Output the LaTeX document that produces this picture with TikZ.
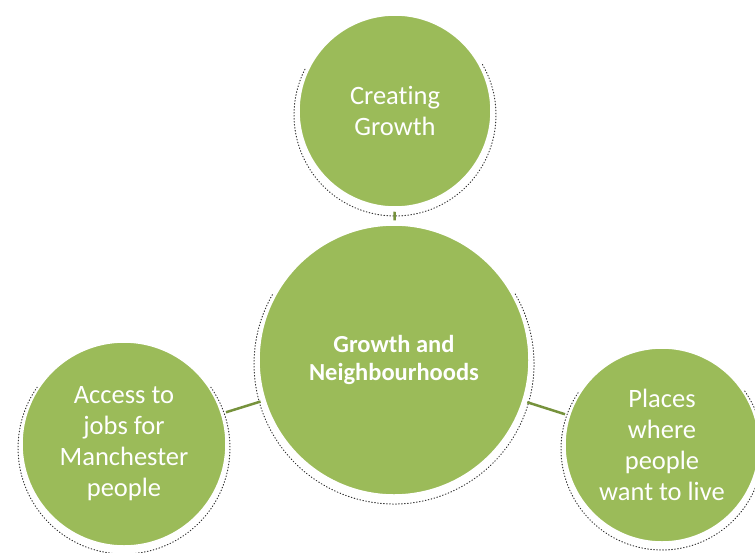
\documentclass[tikz,border=0pt]{standalone}
\usepackage{fontspec}
\setmainfont[Ligatures=NoCommon]{Carlito}
\definecolor{leaf}{HTML}{9BBB59}
\definecolor{darkleaf}{HTML}{76923C}
\begin{document}
\begin{tikzpicture}[x=1pt,y=-1pt,
  bubble/.style={circle, fill=leaf, draw=white, line width=1.5pt, text=white, align=center, inner sep=0pt},
  outertext/.style={font=\fontsize{26.5}{31}\selectfont},
  centertext/.style={font=\fontsize{24.5}{28}\selectfont\bfseries},
  link/.style={draw=darkleaf, line width=2.5pt, shorten <=4pt, shorten >=4pt},
  shadowdots/.style={draw=black!80, line width=1pt, dash pattern=on 0.7pt off 2.3pt, line cap=round}]
\useasboundingbox (0,0) rectangle (755,552);
\clip (0,0) rectangle (755,552);
% dotted shadows
\draw[shadowdots] (395,115) ++(-30:101) arc[start angle=-30, end angle=208, radius=101];
\draw[shadowdots] (394,364) ++(-30:140) arc[start angle=-30, end angle=210, radius=140];
\draw[shadowdots] (124,448) ++(-35:106) arc[start angle=-35, end angle=215, radius=106];
\draw[shadowdots] (662,449) ++(-35:101) arc[start angle=-35, end angle=215, radius=101];
% circles
\node[bubble, minimum size=192pt, outertext] (top) at (395,111) {Creating\\Growth};
\node[bubble, minimum size=270pt, centertext] (center) at (394,360) {Growth and\\Neighbourhoods};
\node[bubble, minimum size=204pt, outertext] (left) at (124,444) {Access to\\jobs for\\Manchester\\people};
\node[bubble, minimum size=194pt, outertext] (right) at (662,445) {Places\\where\\people\\want to live};
% connectors
\draw[link] (top) -- (center);
\draw[link] (left) -- (center);
\draw[link] (right) -- (center);
\end{tikzpicture}
\end{document}
